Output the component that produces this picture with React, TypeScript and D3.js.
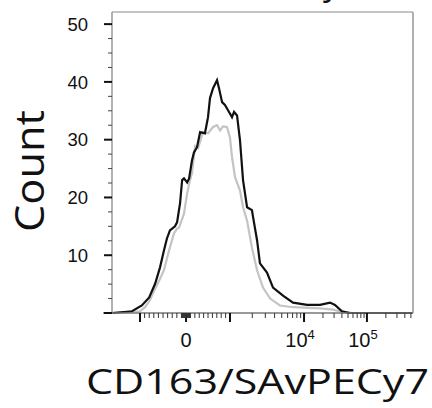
import React, { useEffect, useRef } from 'react';
import * as d3 from 'd3';

// stained sample (black) and control (grey), CD163/SAvPECy7 channel
const stainedX = [-4000, -1490, -960, -800, -670, -565, -480, -415, -350, -240, -195, -130, -85, -45, 25, 70, 135, 180, 250, 320, 430, 500, 545, 615, 705, 750, 820, 885, 955, 1065, 1135, 1245, 1365, 1500, 1700, 1980, 2050, 2320, 2540, 3160, 3810, 5200, 7100, 11200, 18000, 25900, 31000, 40000, 53700, 530000];
const stainedCount = [0, 0.3, 1.3, 2.7, 5.1, 7.9, 10.8, 12.9, 14.3, 15.0, 15.7, 19.0, 23.0, 23.3, 22.6, 23.3, 26.4, 27.8, 28.7, 31.3, 31.1, 33.9, 37.2, 38.9, 40.3, 38.9, 36.5, 36.0, 35.1, 33.9, 34.8, 34.2, 29.9, 23.0, 18.3, 17.8, 16.6, 12.6, 8.6, 7.0, 4.4, 3.0, 1.8, 1.4, 1.4, 1.8, 1.4, 0.3, 0, 0];

const controlX = [-4000, -1000, -890, -785, -675, -585, -480, -370, -260, -195, -150, -45, 25, 90, 135, 205, 275, 385, 500, 615, 705, 775, 840, 930, 1000, 1065, 1170, 1365, 1500, 1700, 1980, 2320, 2790, 3480, 4740, 7100, 17950, 28800, 41600, 60000, 530000];
const controlCount = [0, 0.3, 1.0, 2.2, 4.2, 5.6, 7.4, 10.8, 13.8, 14.6, 14.8, 17.2, 20.7, 23.0, 24.2, 28.9, 28.6, 31.3, 31.1, 32.2, 32.5, 31.6, 32.3, 32.2, 30.4, 27.0, 23.5, 21.2, 18.3, 16.0, 11.3, 7.4, 4.4, 2.5, 1.3, 1.0, 0.8, 0.6, 0.1, 0, 0];

const yMajor = [0, 10, 20, 30, 40, 50];
const yMinor = [2.5, 5, 7.5, 12.5, 15, 17.5, 22.5, 25, 27.5, 32.5, 35, 37.5, 42.5, 45, 47.5];
const xMajor = [-1000, 0, 1000, 10000, 100000];
const xLabels = [
  { v: 0, base: '0', exp: '' },
  { v: 10000, base: '10', exp: '4' },
  { v: 100000, base: '10', exp: '5' },
];
const xMinor = [
  -900, -800, -700, -600, -500, -400, -300, -200, -100,
  -90, -80, -70, -60, -50, -40, -30, -20, -10,
  10, 20, 30, 40, 50, 60, 70, 80, 90,
  100, 200, 300, 400, 500, 600, 700, 800, 900,
  2000, 3000, 4000, 5000, 6000, 7000, 8000, 9000,
  20000, 30000, 40000, 50000, 60000, 70000, 80000, 90000,
  200000, 300000, 400000, 500000,
];

// linear around zero, log10 above 1000 (flow cytometry style)
const biex = (v: number) => {
  const a = Math.abs(v);
  return a <= 1000 ? v / 1000 : Math.sign(v) * (1 + Math.log10(a / 1000));
};

export default function App() {
  const ref = useRef<SVGSVGElement>(null);

  useEffect(() => {
    const W = 432, H = 408;
    const margin = { top: 12, right: 19, bottom: 95, left: 112 };
    const width = W - margin.left - margin.right;
    const height = H - margin.top - margin.bottom;

    const svg = d3.select(ref.current);
    svg.selectAll('*').remove();

    // calibrated positions of -10^3, 0, 10^3, 10^4, 10^5 along the axis
    const xs = d3.scaleLinear()
      .domain(xMajor.map(biex))
      .range([0.093, 0.246, 0.392, 0.638, 0.847].map(f => f * width));
    const x = (v: number) => xs(biex(v));

    const y = d3.scaleLinear().domain([0, 52.1]).range([height, 0]);

    const g = svg.append('g').attr('transform', `translate(${margin.left},${margin.top})`);

    g.append('clipPath').attr('id', 'plot-clip')
      .append('rect').attr('width', width).attr('height', height + 2);

    const line = d3.line<[number, number]>()
      .x(d => x(d[0]))
      .y(d => y(d[1]));

    g.append('path')
      .datum(controlX.map((v, i) => [v, controlCount[i]] as [number, number]))
      .attr('clip-path', 'url(#plot-clip)')
      .attr('fill', 'none')
      .attr('stroke', '#c4c4c4')
      .attr('stroke-width', 2.2)
      .attr('d', line);

    g.append('path')
      .datum(stainedX.map((v, i) => [v, stainedCount[i]] as [number, number]))
      .attr('clip-path', 'url(#plot-clip)')
      .attr('fill', 'none')
      .attr('stroke', '#111')
      .attr('stroke-width', 2.2)
      .attr('d', line);

    // frame
    g.append('line').attr('x1', 0).attr('x2', width).attr('y1', 0).attr('y2', 0)
      .attr('stroke', '#b0b0b0').attr('stroke-width', 1.5);
    g.append('line').attr('x1', width).attr('x2', width).attr('y1', 0).attr('y2', height)
      .attr('stroke', '#b0b0b0').attr('stroke-width', 2);
    g.append('line').attr('x1', 0).attr('x2', 0).attr('y1', 0).attr('y2', height)
      .attr('stroke', '#999').attr('stroke-width', 1.5);
    g.append('line').attr('x1', -9).attr('x2', width).attr('y1', height).attr('y2', height)
      .attr('stroke', '#777').attr('stroke-width', 1.5);

    // y ticks
    g.selectAll('.ymaj').data(yMajor).enter().append('line')
      .attr('x1', -8).attr('x2', 0)
      .attr('y1', d => y(d)).attr('y2', d => y(d))
      .attr('stroke', '#111').attr('stroke-width', 2);
    g.selectAll('.ymin').data(yMinor).enter().append('line')
      .attr('x1', -4).attr('x2', 0)
      .attr('y1', d => y(d)).attr('y2', d => y(d))
      .attr('stroke', '#444').attr('stroke-width', 1);
    g.selectAll('.ylab').data(yMajor.filter(d => d > 0)).enter().append('text')
      .attr('x', -24).attr('y', d => y(d)).attr('dy', '0.36em')
      .attr('text-anchor', 'end')
      .attr('font-family', '"Liberation Sans", Arial, sans-serif')
      .attr('font-size', 18.5).attr('fill', '#111')
      .text(d => d);

    // x ticks
    g.selectAll('.xmaj').data(xMajor).enter().append('line')
      .attr('x1', d => x(d)).attr('x2', d => x(d))
      .attr('y1', height).attr('y2', height + 9)
      .attr('stroke', '#111').attr('stroke-width', 2);
    g.selectAll('.xmin').data(xMinor).enter().append('line')
      .attr('x1', d => x(d)).attr('x2', d => x(d))
      .attr('y1', height).attr('y2', height + 5)
      .attr('stroke', '#333').attr('stroke-width', 1);

    const lab = g.selectAll('.xlab').data(xLabels).enter().append('text')
      .attr('x', d => x(d.v) - (d.exp ? 4 : 0)).attr('y', height + 34)
      .attr('text-anchor', 'middle')
      .attr('font-family', '"Liberation Sans", Arial, sans-serif')
      .attr('font-size', 20).attr('fill', '#111');
    lab.append('tspan').text(d => d.base);
    lab.append('tspan').attr('font-size', 13).attr('dy', -8).text(d => d.exp);

    // axis titles
    svg.append('text')
      .attr('transform', `translate(44,171) rotate(-90)`)
      .attr('text-anchor', 'middle')
      .attr('font-family', '"Open Sans", sans-serif')
      .attr('font-size', 40)
      .attr('textLength', 122).attr('lengthAdjust', 'spacingAndGlyphs')
      .attr('fill', '#111')
      .text('Count');

    svg.append('text')
      .attr('x', 86).attr('y', 394)
      .attr('font-family', '"Open Sans", sans-serif')
      .attr('font-size', 34)
      .attr('textLength', 343).attr('lengthAdjust', 'spacingAndGlyphs')
      .attr('fill', '#111')
      .text('CD163/SAvPECy7');

    // title, cut off at the top of the panel like in the source figure
    svg.append('text')
      .attr('x', 340).attr('y', -5)
      .attr('text-anchor', 'end')
      .attr('font-family', '"Open Sans", sans-serif')
      .attr('font-size', 34)
      .attr('fill', '#111')
      .text('Antibody');
  }, []);

  return (
    <svg ref={ref} width={432} height={408}
      style={{ position: 'absolute', left: 0, top: 0, background: '#fff' }} />
  );
}
